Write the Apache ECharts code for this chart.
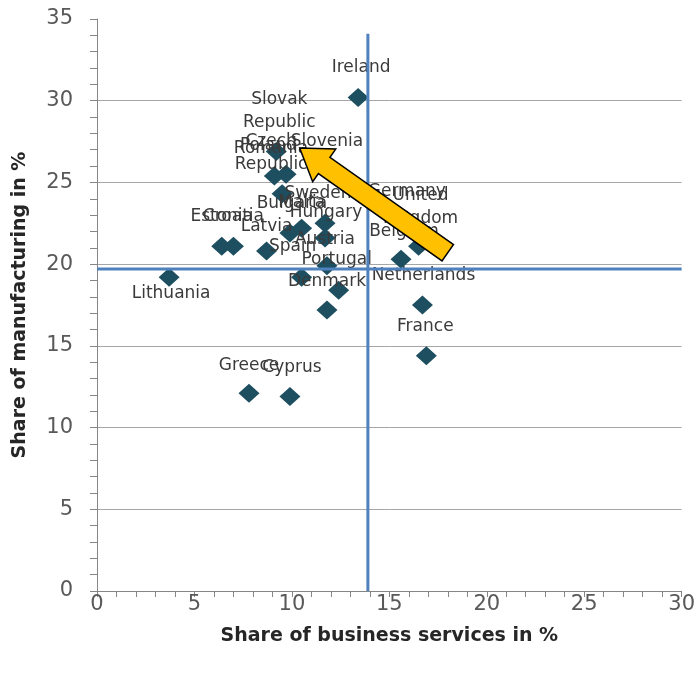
<!DOCTYPE html>
<html>
<head>
<meta charset="utf-8">
<script src="https://cdn.jsdelivr.net/npm/echarts@6/dist/echarts.min.js"></script>
<style>
  html, body { margin: 0; padding: 0; background: #fff; }
  #chart { width: 698px; height: 675px; }
</style>
</head>
<body>
<div id="chart"></div>
<script>
// country shares
const countries = [
  "Ireland", "Slovak\nRepublic", "Poland", "Romania", "Czech\nRepublic", "Slovenia",
  "Sweden", "Bulgaria", "Malta", "Hungary", "Estonia", "Croatia", "Latvia", "Spain",
  "Austria", "Portugal", "Denmark", "Germany", "United\nKingdom", "Belgium",
  "Netherlands", "France", "Greece", "Cyprus", "Lithuania"
];
const businessServices = [
  13.4, 9.2, 9.1, 9.7, 9.5, 11.8,
  11.7, 9.9, 10.5, 11.7, 6.4, 7.0, 8.7, 10.5,
  11.8, 12.4, 11.8, 15.9, 16.5, 15.6,
  16.7, 16.9, 7.8, 9.9, 3.7
];
const manufacturing = [
  30.2, 26.9, 25.4, 25.5, 24.3, 25.8,
  22.5, 21.9, 22.2, 21.6, 21.1, 21.1, 20.8, 19.2,
  19.9, 18.4, 17.2, 22.7, 21.1, 20.3,
  17.5, 14.4, 12.1, 11.9, 19.2
];
// averages drawn as the two blue cross lines
const avgServices = 13.9;
const avgManufacturing = 19.7;
const crossLineTop = 34.1;
// annotation arrow, in data units
const arrowFrom = [18.0, 20.7];
const arrowTo = [10.4, 27.1];

// label nudges in px from the marker centre
const labelNudge = {
  "Ireland": [3, -30], "Slovak\nRepublic": [3, -40], "Czech\nRepublic": [-11, -41],
  "Poland": [-6, -30], "Romania": [-15, -26], "Slovenia": [0, -28], "Sweden": [-7, -30],
  "Bulgaria": [2, -30], "Malta": [0, -26], "Hungary": [1, -25], "Estonia": [0, -30],
  "Croatia": [0, -30], "Latvia": [0, -24], "Spain": [-9, -31], "Austria": [-2, -26],
  "Portugal": [-2, -31], "Denmark": [0, -28], "Germany": [0, -28],
  "United\nKingdom": [2, -39], "Belgium": [3, -28], "Netherlands": [1, -29],
  "France": [-1, -29], "Greece": [0, -28], "Cyprus": [2, -29], "Lithuania": [2, 16]
};

const points = countries.map((name, i) => ({
  name: name,
  value: [businessServices[i], manufacturing[i]],
  label: { offset: labelNudge[name] || [0, -28] },
}));

const chart = echarts.init(document.getElementById("chart"));
const tickFont = "DejaVu Sans";
const axisGrey = "#868686";

chart.setOption({
  animation: false,
  grid: { left: 97, right: 14, top: 19, bottom: 84 },
  xAxis: {
    type: "value",
    min: 0,
    max: 30,
    interval: 5,
    name: "Share of business services in %",
    nameLocation: "middle",
    nameGap: 36,
    nameTextStyle: { fontFamily: tickFont, fontWeight: "bold", fontSize: 19, color: "#262626" },
    axisLine: { lineStyle: { color: axisGrey } },
    axisTick: { length: 6, lineStyle: { color: axisGrey } },
    minorTick: { show: true, splitNumber: 5, length: 6, lineStyle: { color: axisGrey } },
    splitLine: { show: false },
    axisLabel: { fontFamily: tickFont, fontSize: 21, color: "#595959", margin: 3 },
  },
  yAxis: {
    type: "value",
    min: 0,
    max: 35,
    interval: 5,
    name: "Share of manufacturing in %",
    nameLocation: "middle",
    nameGap: 67,
    nameTextStyle: { fontFamily: tickFont, fontWeight: "bold", fontSize: 19, color: "#262626" },
    axisLine: { show: true, lineStyle: { color: axisGrey } },
    axisTick: { show: true, length: 7, lineStyle: { color: axisGrey } },
    minorTick: { show: true, splitNumber: 5, length: 7, lineStyle: { color: axisGrey } },
    splitLine: { show: true, showMaxLine: false, lineStyle: { color: "#a6a6a6" } },
    axisLabel: { fontFamily: tickFont, fontSize: 21, color: "#595959", margin: 24 },
  },
  series: [
    {
      type: "scatter",
      symbol: "diamond",
      symbolSize: [21, 19],
      itemStyle: { color: "#1d4f60", opacity: 1 },
      label: {
        show: true,
        position: "inside",
        formatter: (p) => p.name,
        fontFamily: tickFont,
        fontSize: 17,
        lineHeight: 23,
        color: "#3a3a3a",
      },
      data: points,
      z: 2,
    },
    {
      type: "line",
      data: [[avgServices, 0], [avgServices, crossLineTop]],
      symbol: "none",
      lineStyle: { color: "#4f81bd", width: 3 },
      z: 5,
    },
    {
      type: "line",
      data: [[0, avgManufacturing], [30, avgManufacturing]],
      symbol: "none",
      lineStyle: { color: "#4f81bd", width: 3 },
      z: 5,
    },
  ],
});

// build the orange arrow from data coords
function arrowShape() {
  const a = chart.convertToPixel({ gridIndex: 0 }, arrowFrom);
  const b = chart.convertToPixel({ gridIndex: 0 }, arrowTo);
  const dx = b[0] - a[0], dy = b[1] - a[1];
  const len = Math.sqrt(dx * dx + dy * dy);
  const ux = dx / len, uy = dy / len;
  const nx = -uy, ny = ux;
  const shaft = 10, head = 20, headLen = 30;
  const neck = [b[0] - ux * headLen, b[1] - uy * headLen];
  return [
    [a[0] + nx * shaft, a[1] + ny * shaft],
    [neck[0] + nx * shaft, neck[1] + ny * shaft],
    [neck[0] + nx * head, neck[1] + ny * head],
    b,
    [neck[0] - nx * head, neck[1] - ny * head],
    [neck[0] - nx * shaft, neck[1] - ny * shaft],
    [a[0] - nx * shaft, a[1] - ny * shaft],
  ];
}

chart.setOption({
  graphic: [
    {
      type: "polygon",
      shape: { points: arrowShape() },
      style: { fill: "#ffc000", stroke: "#000", lineWidth: 1.5 },
      z: 100,
    },
  ],
});
</script>
</body>
</html>
